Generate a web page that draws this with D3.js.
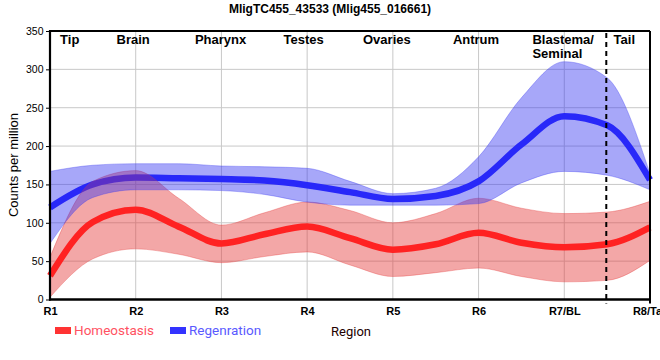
<!DOCTYPE html>
<html>
<head>
<meta charset="utf-8">
<script src="https://cdn.jsdelivr.net/npm/d3@7"></script>
<style>
  html, body { margin: 0; padding: 0; background: #fff; }
  svg { display: block; }
</style>
</head>
<body>
<svg id="chart" width="660" height="360"></svg>
<script>
// ---------------- data ----------------
const title = "MligTC455_43533 (Mlig455_016661)";
const regions = ["R1", "R2", "R3", "R4", "R5", "R6", "R7/BL", "R8/Tail"];
const yTicks = [0, 50, 100, 150, 200, 250, 300, 350];
const bodyParts = ["Tip", "Brain", "Pharynx", "Testes", "Ovaries", "Antrum", "Blastema/", "Tail"];
const bodyPartPos = [0.23, 0.97, 1.99, 2.96, 3.93, 4.97, 5.99, 6.7];
const secondLine = { index: 6, text: "Seminal" };
const tailBoundary = 6.49;
// sample positions along the body (region index units)
const positions = [0, 0.5, 1, 1.5, 2, 2.5, 3, 3.5, 4, 4.5, 5, 5.5, 6, 6.5, 7];
const homeoMean = [31, 101, 117, 95, 73, 85, 95, 80, 65, 72, 87, 74, 68, 72, 94];
const homeoLow  = [3, 53, 66, 59, 48, 56, 62, 45, 30, 35, 41, 30, 23, 25, 51];
const homeoHigh = [55, 154, 168, 132, 97, 113, 127, 116, 100, 112, 132, 119, 112, 114, 128];
const regenMean = [120, 150, 159, 158, 157, 155, 149, 140, 131, 135, 154, 202, 239, 227, 156];
const regenLow  = [73, 133, 143, 143, 142, 137, 127, 123, 123, 123, 125, 152, 167, 162, 143];
const regenHigh = [167, 175, 177, 177, 174, 173, 171, 154, 138, 145, 186, 263, 310, 289, 164];
const seriesNames = ["Homeostasis", "Regenration"];

// ---------------- layout ----------------
const svg = d3.select("#chart");
const L = 50, R = 650, T = 31, B = 299.5;
const x = d3.scaleLinear().domain([0, regions.length - 1]).range([L, R]);
const y = d3.scaleLinear().domain([0, 350]).range([B, T]);
const sans = "'Liberation Sans', Arial, sans-serif";

// grid
const grid = svg.append("g");
grid.selectAll("line.v").data(regions).enter().append("line")
  .attr("x1", (d, i) => x(i)).attr("x2", (d, i) => x(i))
  .attr("y1", T).attr("y2", B)
  .attr("stroke", "#c8c8c8").attr("stroke-width", 1);
grid.selectAll("line.h").data(yTicks).enter().append("line")
  .attr("x1", L).attr("x2", R)
  .attr("y1", d => y(d)).attr("y2", d => y(d))
  .attr("stroke", "#c8c8c8").attr("stroke-width", 1);

const pts = (arr) => positions.map((p, i) => [p, arr[i]]);
const bandPts = (lo, hi) => positions.map((p, i) => ({ p, lo: lo[i], hi: hi[i] }));
const curve = d3.curveMonotoneX;
const area = d3.area().x(d => x(d.p)).y0(d => y(d.lo)).y1(d => y(d.hi)).curve(curve);
const line = d3.line().x(d => x(d[0])).y(d => y(d[1])).curve(curve);

// regeneration mean line (under the bands)
svg.append("path").datum(pts(regenMean)).attr("d", line)
  .attr("fill", "none").attr("stroke", "#2020ff").attr("stroke-width", 6.5);

// homeostasis band
svg.append("path").datum(bandPts(homeoLow, homeoHigh)).attr("d", area)
  .attr("fill", "rgb(228,60,60)").attr("fill-opacity", 0.45)
  .attr("stroke", "rgb(228,60,60)").attr("stroke-opacity", 0.35).attr("stroke-width", 1);

// regeneration band
svg.append("path").datum(bandPts(regenLow, regenHigh)).attr("d", area)
  .attr("fill", "rgb(50,50,240)").attr("fill-opacity", 0.43)
  .attr("stroke", "rgb(60,60,240)").attr("stroke-opacity", 0.35).attr("stroke-width", 1);

// homeostasis mean line
svg.append("path").datum(pts(homeoMean)).attr("d", line)
  .attr("fill", "none").attr("stroke", "#ff2222").attr("stroke-width", 6.5);

// tail boundary
svg.append("line")
  .attr("x1", x(tailBoundary)).attr("x2", x(tailBoundary))
  .attr("y1", T + 2).attr("y2", B + 4)
  .attr("stroke", "#000").attr("stroke-width", 2).attr("stroke-dasharray", "5,4");

// frame
svg.append("line").attr("x1", L).attr("x2", R).attr("y1", T).attr("y2", T)
  .attr("stroke", "#000").attr("stroke-width", 2);
svg.append("line").attr("x1", R).attr("x2", R).attr("y1", T).attr("y2", B + 4)
  .attr("stroke", "#000").attr("stroke-width", 2);

// y axis
const yAxis = svg.append("g").attr("transform", `translate(${L},0)`)
  .call(d3.axisLeft(y).tickValues(yTicks).tickSize(4).tickPadding(2.5).tickSizeOuter(0));
yAxis.select(".domain").attr("stroke-width", 2.2).attr("d", `M0,${T - 1}V${B + 1}`);
yAxis.selectAll("text").attr("font-family", sans).attr("font-size", 10.5).attr("fill", "#000");

// x axis
const xAxis = svg.append("g").attr("transform", `translate(0,${B})`)
  .call(d3.axisBottom(x).tickValues(d3.range(regions.length)).tickFormat(i => regions[i])
    .tickSize(0).tickPadding(8).tickSizeOuter(0));
xAxis.select(".domain").attr("stroke-width", 2.4).attr("d", `M${L - 1},0H${R + 1}`);
xAxis.selectAll("text").attr("font-family", sans).attr("font-size", 11)
  .attr("font-weight", "bold").attr("fill", "#000");

// title
svg.append("text").attr("x", 330).attr("y", 13).attr("text-anchor", "middle")
  .attr("font-family", sans).attr("font-size", 12).attr("font-weight", "bold")
  .text(title);

// body part labels
bodyParts.forEach((name, i) => {
  const twoLine = i === secondLine.index;
  svg.append("text")
    .attr("x", twoLine ? x(bodyPartPos[i]) - 31 : x(bodyPartPos[i])).attr("y", 44)
    .attr("text-anchor", twoLine ? "start" : "middle")
    .attr("font-family", sans).attr("font-size", 13).attr("font-weight", "bold")
    .text(name);
  if (twoLine) {
    svg.append("text")
      .attr("x", x(bodyPartPos[i]) - 31).attr("y", 57.5)
      .attr("font-family", sans).attr("font-size", 13).attr("font-weight", "bold")
      .text(secondLine.text);
  }
});

// y title
svg.append("text")
  .attr("transform", `translate(18,165) rotate(-90)`)
  .attr("text-anchor", "middle")
  .attr("font-family", sans).attr("font-size", 13)
  .text("Counts per million");

// x title
svg.append("text").attr("x", 351).attr("y", 335.5).attr("text-anchor", "middle")
  .attr("font-family", "Roboto, sans-serif").attr("font-size", 13).attr("fill", "#200")
  .text("Region");

// legend
const legendItems = [
  { name: seriesNames[0], rect: "#ff3333", text: "#ff5262", rx: 55, tx: 74 },
  { name: seriesNames[1], rect: "#3333ff", text: "#5a5aff", rx: 170, tx: 189 }
];
legendItems.forEach(d => {
  svg.append("rect").attr("x", d.rx).attr("y", 327).attr("width", 16).attr("height", 7)
    .attr("fill", d.rect);
  svg.append("text").attr("x", d.tx).attr("y", 335).attr("font-family", "Roboto, sans-serif")
    .attr("font-size", 13.5).attr("fill", d.text).text(d.name);
});
</script>
</body>
</html>
